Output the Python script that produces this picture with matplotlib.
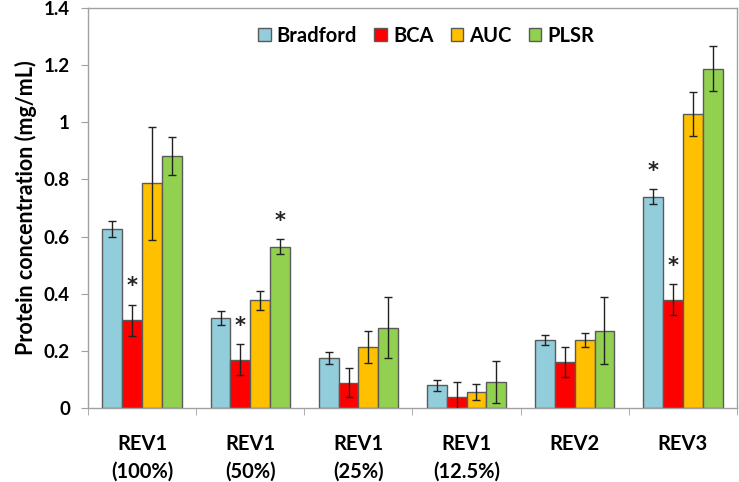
import numpy as np
import matplotlib
import matplotlib.pyplot as plt

matplotlib.use("agg")
plt.rcParams["font.family"] = ["Lato", "DejaVu Sans"]

# data
categories = ["REV1\n(100%)", "REV1\n(50%)", "REV1\n(25%)", "REV1\n(12.5%)", "REV2", "REV3"]
series = ["Bradford", "BCA", "AUC", "PLSR"]
colors = ["#92CDDC", "#FF0000", "#FFC000", "#92D050"]

bradford = [0.627, 0.316, 0.175, 0.079, 0.238, 0.739]
bradford_err = [0.028, 0.025, 0.022, 0.020, 0.016, 0.026]
bca = [0.307, 0.169, 0.089, 0.040, 0.160, 0.379]
bca_err = [0.055, 0.054, 0.052, 0.051, 0.053, 0.054]
auc = [0.786, 0.377, 0.212, 0.056, 0.238, 1.029]
auc_err = [0.197, 0.033, 0.056, 0.029, 0.026, 0.078]
plsr = [0.881, 0.565, 0.281, 0.091, 0.271, 1.188]
plsr_err = [0.066, 0.026, 0.107, 0.072, 0.117, 0.078]

# significance stars: (group index, series index)
stars = [(0, 1), (1, 1), (1, 3), (5, 0), (5, 1)]

values = [bradford, bca, auc, plsr]
errors = [bradford_err, bca_err, auc_err, plsr_err]

fig = plt.figure(figsize=(7.39, 4.82), dpi=100)
ax = fig.add_axes([88 / 739, 74 / 482, 649 / 739, 400 / 482])

x = np.arange(len(categories))
w = 0.183
for j, (name, vals, errs, col) in enumerate(zip(series, values, errors, colors)):
    pos = x + (j - 1.5) * w
    ax.bar(pos, vals, w, color=col, edgecolor="#5a5a5a", linewidth=1.0,
           label=name, zorder=2)
    ax.errorbar(pos, vals, yerr=errs, fmt="none", ecolor="#222222",
                elinewidth=1.0, capsize=3.2, capthick=1.0, zorder=3)

for g, s in stars:
    top = values[s][g] + errors[s][g]
    ax.text(g + (s - 1.5) * w, top + 0.03, "*", ha="center", va="bottom",
            fontsize=15, fontweight="bold", color="#222222", family="DejaVu Sans")

ax.set_xlim(-0.5, len(categories) - 0.5)
ax.set_ylim(0, 1.4)
ax.set_yticks(np.arange(0, 1.41, 0.2))
ax.set_yticklabels(["0", "0.2", "0.4", "0.6", "0.8", "1", "1.2", "1.4"])
ax.set_xticks(x)
ax.set_xticklabels(categories, fontsize=14.5, fontweight="bold", linespacing=1.45)
ax.set_xticks(np.arange(-0.5, len(categories), 1.0), minor=True)
ax.tick_params(axis="x", which="major", length=0, pad=19)
ax.tick_params(axis="x", which="minor", length=5, color="#a0a0a0", direction="out")
ax.tick_params(axis="y", length=5, color="#a0a0a0", labelsize=13.5, pad=8)
for lab in ax.get_yticklabels():
    lab.set_fontweight("bold")

for side in ["left", "bottom", "top", "right"]:
    ax.spines[side].set_color("#a0a0a0")
    ax.spines[side].set_linewidth(1.0)

ax.set_ylabel("Protein concentration (mg/mL)", fontsize=15.5, fontweight="bold", labelpad=5)

ax.legend(loc="center", bbox_to_anchor=(0.521, 0.93), ncol=4, frameon=False,
          prop={"size": 14.5, "weight": "bold"}, handlelength=0.62, handleheight=0.62,
          handletextpad=0.3, columnspacing=0.85)

plt.savefig("out.png", dpi=100)
plt.close()
